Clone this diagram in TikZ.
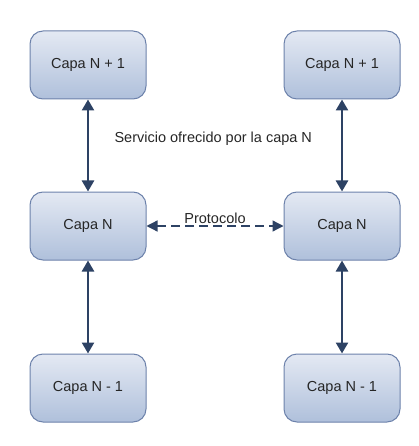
\documentclass[tikz,border=0pt]{standalone}
\usepackage{fontspec}
\setmainfont{Liberation Sans}
\usetikzlibrary{arrows.meta}
\usetikzlibrary{shadings}

\definecolor{capaborde}{HTML}{6D82AB}
\definecolor{capaarriba}{HTML}{E4E9F3}
\definecolor{capaabajo}{HTML}{AFC0DB}
\definecolor{flecha}{HTML}{2D4264}

\tikzset{
  texto/.style={font=\fontsize{14.5}{17}\selectfont, text=black!85},
  capa/.style={texto, draw=capaborde, line width=1pt, rounded corners=13pt,
    top color=capaarriba, bottom color=capaabajo,
    minimum width=116pt, minimum height=68pt, inner sep=0pt},
  enlace/.style={draw=flecha, line width=2.5pt,
    {Triangle[length=11pt,width=12pt]}-{Triangle[length=11pt,width=12pt]}},
}

\begin{document}
\begin{tikzpicture}[x=1pt, y=-1pt]
\useasboundingbox (0,0) rectangle (418,446);
% Capas izquierda
\node [capa] (izqArriba) at (88,65) {Capa N + 1};
\node [capa] (izqMedio) at (88,226) {Capa N};
\node [capa] (izqAbajo) at (88,388) {Capa N - 1};
% Capas derecha
\node [capa] (derArriba) at (342,65) {Capa N + 1};
\node [capa] (derMedio) at (342,226) {Capa N};
\node [capa] (derAbajo) at (342,388) {Capa N - 1};
% Servicios
\draw [enlace] (izqArriba) -- (izqMedio);
\draw [enlace] (izqMedio) -- (izqAbajo);
\draw [enlace] (derArriba) -- (derMedio);
\draw [enlace] (derMedio) -- (derAbajo);
\node [texto, anchor=west] (servicio) at (111,139) {Servicio ofrecido por la capa N};
% Protocolo
\draw [enlace, line width=1.3pt, dash pattern=on 9pt off 5pt,
  {Triangle[length=11pt,width=11pt]}-{Triangle[length=11pt,width=11pt]}]
  (izqMedio) -- node [texto, above, inner sep=2pt] (protocolo) {Protocolo} (derMedio);
\end{tikzpicture}
\end{document}
